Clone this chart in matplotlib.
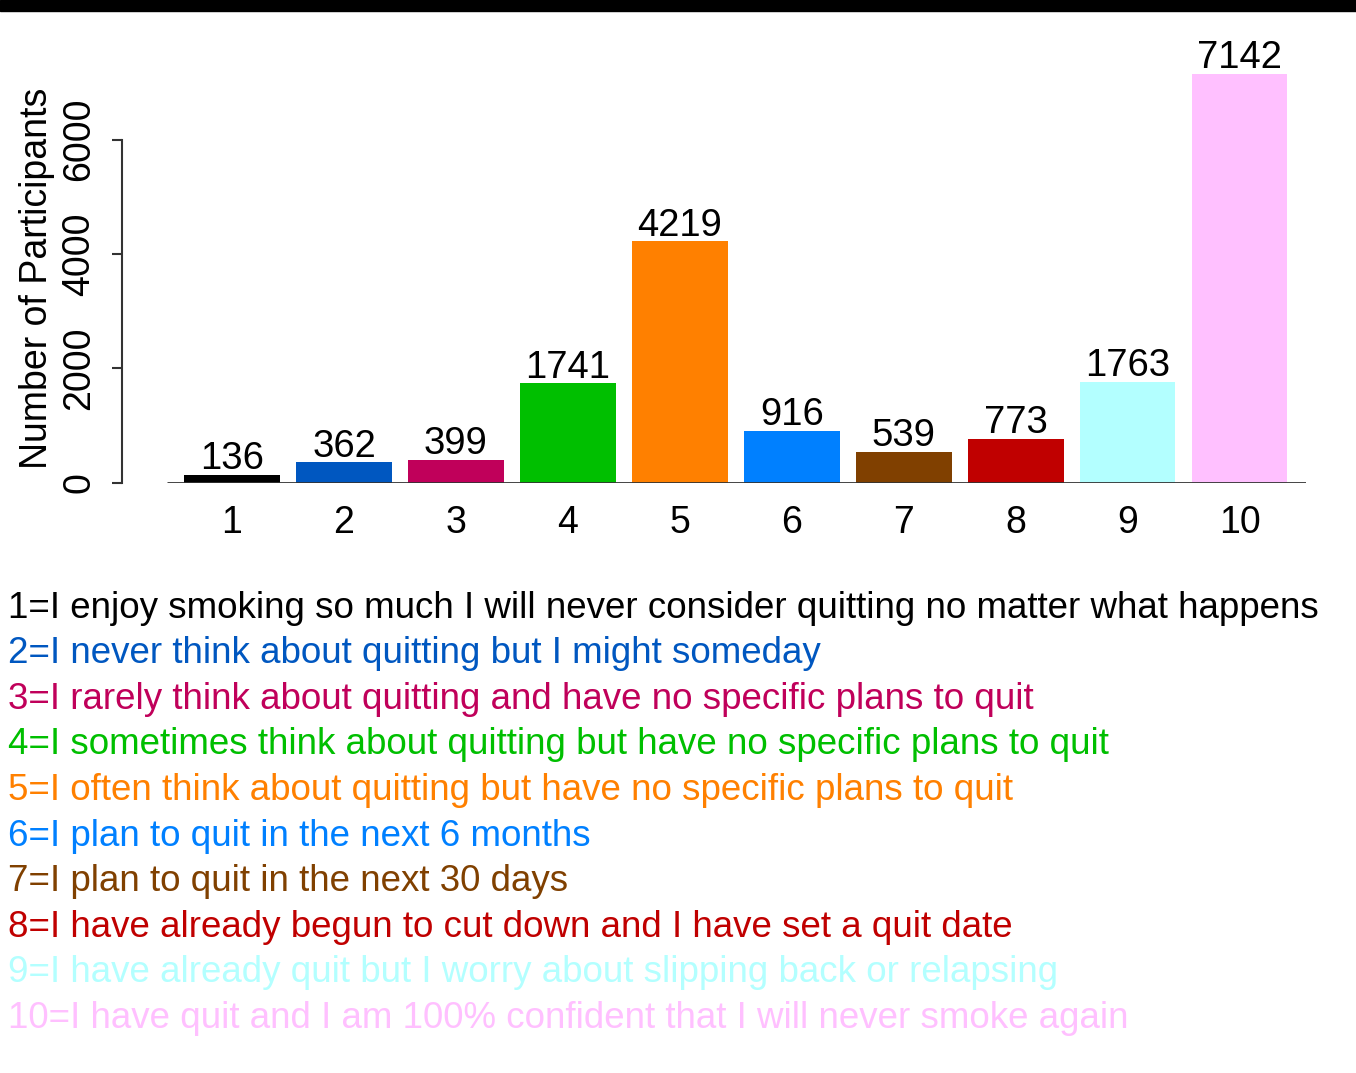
import matplotlib.pyplot as plt
import numpy as np

plt.rcParams['font.family'] = ['Liberation Sans', 'DejaVu Sans']

# data
categories = ["1", "2", "3", "4", "5", "6", "7", "8", "9", "10"]
counts = [136, 362, 399, 1741, 4219, 916, 539, 773, 1763, 7142]
colors = ["#000000", "#0057C0", "#C0005A", "#00BF00", "#FF8000",
          "#0080FF", "#804000", "#C00000", "#B3FFFF", "#FFC0FF"]
descriptions = [
    "I enjoy smoking so much I will never consider quitting no matter what happens",
    "I never think about quitting but I might someday",
    "I rarely think about quitting and have no specific plans to quit",
    "I sometimes think about quitting but have no specific plans to quit",
    "I often think about quitting but have no specific plans to quit",
    "I plan to quit in the next 6 months",
    "I plan to quit in the next 30 days",
    "I have already begun to cut down and I have set a quit date",
    "I have already quit but I worry about slipping back or relapsing",
    "I have quit and I am 100% confident that I will never smoke again",
]

fig = plt.figure(figsize=(13.56, 10.73), dpi=100)
ax = fig.add_axes([0.090, 0.5499, 0.8731, 0.4001])

x = np.arange(1, len(counts) + 1)
ax.bar(x, counts, width=0.85, color=colors)
for xi, c in zip(x, counts):
    ax.text(xi, c - 40, str(c), ha="center", va="bottom", fontsize=27.5)

ax.hlines(0, 0.42, 10.59, color="#333333", linewidth=2, zorder=3)
ax.set_xlim(0.018, 10.59)
ax.set_ylim(0, 7500)

for s in ["top", "right", "bottom"]:
    ax.spines[s].set_visible(False)
ax.spines["left"].set_bounds(0, 6000)
ax.spines["left"].set_color("#333333")
ax.spines["left"].set_linewidth(1.5)

ax.set_yticks([0, 2000, 4000, 6000])
ax.set_yticklabels(["0", "2000", "4000", "6000"], rotation=90, va="center", fontsize=27)
ax.tick_params(axis="y", length=7, width=1.5, color="#333333", pad=11)
ax.set_xticks(x)
ax.set_xticklabels(categories, fontsize=27)
ax.tick_params(axis="x", length=0, pad=16)

fig.text(0.027, 0.741, "Number of Participants", rotation=90, ha="center", va="center", fontsize=27)

# black strip across the top
fig.patches.append(plt.Rectangle((0, 0.990), 1, 0.010, transform=fig.transFigure,
                                 color="black", zorder=0))

y0 = 1073 - 608
for i, (d, col) in enumerate(zip(descriptions, colors)):
    fig.text(8 / 1356, (y0 - i * 45.6) / 1073, f"{i + 1}={d}", color=col,
             fontsize=26.5, ha="left", va="center")

fig.savefig("out.png", dpi=100)
